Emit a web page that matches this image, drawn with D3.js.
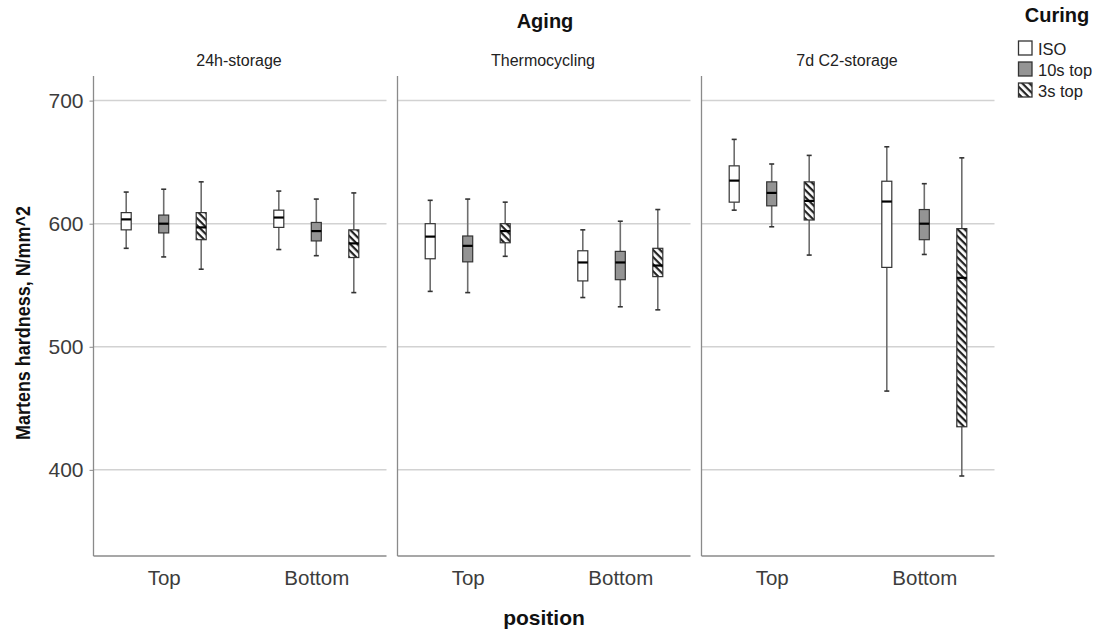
<!DOCTYPE html>
<html><head><meta charset="utf-8">
<script src="https://cdn.jsdelivr.net/npm/d3@7"></script>
<style>body{margin:0;background:#fff;} svg{display:block;}</style>
</head><body>
<script>
const aging = ["24h-storage", "Thermocycling", "7d C2-storage"];
const positions = ["Top", "Bottom"];
const curing = ["ISO", "10s top", "3s top"];
const yTicks = [400, 500, 600, 700];
// order: aging -> position -> curing
const whiskerLow  = [580, 573, 563,   579, 574, 544,   545, 544, 573.5,   540, 532.5, 530,   611, 597.5, 574.5,   464, 575, 395];
const q1          = [595, 592.5, 587, 597, 586, 572.5, 571.5, 569, 584.5, 553.5, 554.5, 557, 617.5, 614.5, 603,   564.5, 587, 435];
const median      = [603.5, 600, 597, 605, 594, 584,   589.5, 582, 594,   568.5, 568.5, 566, 635, 625, 618.5,    618, 600, 556];
const q3          = [609, 607, 609,   611, 601, 595,   600, 590, 600,     578, 577.5, 580,   647, 634, 634,       634.5, 611.5, 596];
const whiskerHigh = [625.7, 628, 634, 626.5, 620, 625, 619, 620, 617.5,   595, 602, 611.5,   668.5, 648.5, 655.5, 662.5, 632.5, 653.5];

const W = 1103, H = 632;
const svg = d3.select("body").append("svg").attr("width", W).attr("height", H);
const defs = svg.append("defs");
const pat = defs.append("pattern").attr("id", "hatch").attr("patternUnits", "userSpaceOnUse")
  .attr("width", 5).attr("height", 5).attr("patternTransform", "rotate(45)");
pat.append("rect").attr("width", 5).attr("height", 5).attr("fill", "#fff");
pat.append("rect").attr("x", 0).attr("y", 0).attr("width", 5).attr("height", 2.2).attr("fill", "#222");

const fills = {"ISO": "#ffffff", "10s top": "#949494", "3s top": "url(#hatch)"};

const panelLeft = [93.5, 397.5, 701.5];
const panelW = 293;
const plotTop = 76, plotBottom = 556;
const y = d3.scaleLinear().domain([330, 720]).range([plotBottom, plotTop]);
const xPos = d3.scalePoint().domain(positions).range([0, panelW]).padding(0.46);
const xCur = d3.scaleBand().domain(curing).range([-56.25, 56.25]);
const boxW = 10;

const font = "'Liberation Sans', Arial, sans-serif";

aging.forEach((ag, ai) => {
  const g = svg.append("g").attr("transform", `translate(${panelLeft[ai]},0)`);
  g.selectAll("line.grid").data(yTicks).enter().append("line")
    .attr("x1", 0).attr("x2", panelW).attr("y1", d => y(d)).attr("y2", d => y(d))
    .attr("stroke", "#d2d2d2").attr("stroke-width", 1.5);
  const ya = g.append("g").call(d3.axisLeft(y).tickValues(yTicks).tickSize(ai === 0 ? 4 : 0).tickFormat(ai === 0 ? d3.format("d") : () => ""));
  ya.select(".domain").attr("stroke", "#8a8a8a").attr("stroke-width", 1.3).attr("d", `M0,${plotTop}V${plotBottom}`);
  ya.selectAll(".tick line").attr("stroke", "#8a8a8a");
  ya.selectAll(".tick text").attr("font-family", font).attr("font-size", 21).attr("fill", "#3c3c3c").attr("x", -10);
  const xa = g.append("g").attr("transform", `translate(0,${plotBottom})`).call(d3.axisBottom(xPos).tickSize(0));
  xa.select(".domain").attr("stroke", "#8a8a8a").attr("stroke-width", 1.3).attr("d", `M0,0H${panelW}`);
  xa.selectAll(".tick text").attr("font-family", font).attr("font-size", 20.5).attr("fill", "#3c3c3c").attr("y", 0).attr("dy", 0)
    .attr("transform", "translate(0,29)");
  g.append("text").attr("x", panelW / 2 - 1).attr("y", 66).attr("text-anchor", "middle")
    .attr("font-family", font).attr("font-size", 16).attr("fill", "#222").text(ag);

  positions.forEach((pos, pi) => {
    curing.forEach((cu, ci) => {
      const i = ai * 6 + pi * 3 + ci;
      const cx = xPos(pos) + xCur(cu) + xCur.bandwidth() / 2;
      const bg = g.append("g");
      bg.append("line").attr("x1", cx).attr("x2", cx).attr("y1", y(whiskerHigh[i])).attr("y2", y(q3[i]))
        .attr("stroke", "#6e6e6e").attr("stroke-width", 1.6);
      bg.append("line").attr("x1", cx).attr("x2", cx).attr("y1", y(q1[i])).attr("y2", y(whiskerLow[i]))
        .attr("stroke", "#6e6e6e").attr("stroke-width", 1.6);
      [whiskerHigh[i], whiskerLow[i]].forEach(v => {
        bg.append("line").attr("x1", cx - 2.5).attr("x2", cx + 2.5).attr("y1", y(v)).attr("y2", y(v))
          .attr("stroke", "#333").attr("stroke-width", 1.6);
      });
      bg.append("rect").attr("x", cx - boxW / 2).attr("width", boxW)
        .attr("y", y(q3[i])).attr("height", y(q1[i]) - y(q3[i]))
        .attr("fill", fills[cu]).attr("stroke", "#333").attr("stroke-width", 1.2);
      bg.append("line").attr("x1", cx - boxW / 2).attr("x2", cx + boxW / 2).attr("y1", y(median[i])).attr("y2", y(median[i]))
        .attr("stroke", "#000").attr("stroke-width", 2.2);
    });
  });
});

svg.append("text").attr("x", 545).attr("y", 28).attr("text-anchor", "middle")
  .attr("font-family", font).attr("font-weight", "bold").attr("font-size", 20).attr("fill", "#111").text("Aging");
svg.append("text").attr("x", 544).attr("y", 625).attr("text-anchor", "middle")
  .attr("font-family", font).attr("font-weight", "bold").attr("font-size", 21).attr("fill", "#111").text("position");
svg.append("text").attr("transform", "translate(30,323) rotate(-90)").attr("text-anchor", "middle")
  .attr("font-family", font).attr("font-weight", "bold").attr("font-size", 20).attr("fill", "#111")
  .attr("textLength", 234).attr("lengthAdjust", "spacingAndGlyphs")
  .text("Martens hardness, N/mm^2");

const lg = svg.append("g");
lg.append("text").attr("x", 1057).attr("y", 22).attr("text-anchor", "middle")
  .attr("font-family", font).attr("font-weight", "bold").attr("font-size", 20).attr("fill", "#111").text("Curing");
curing.forEach((c, i) => {
  const yy = 41 + i * 21;
  lg.append("rect").attr("x", 1018.5).attr("y", yy).attr("width", 13.5).attr("height", 14)
    .attr("fill", fills[c]).attr("stroke", "#333").attr("stroke-width", 1.3);
  lg.append("text").attr("x", 1038).attr("y", yy + 13.5).attr("font-family", font).attr("font-size", 16.5)
    .attr("fill", "#222").text(c);
});
</script>
</body></html>
